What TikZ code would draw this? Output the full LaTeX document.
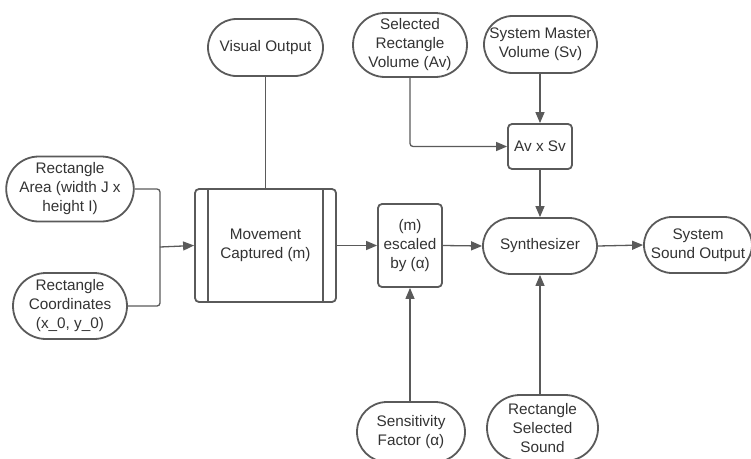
\documentclass[tikz,border=0pt]{standalone}
\usepackage{fontspec}
\setmainfont{Liberation Sans}
\usetikzlibrary{shapes.misc,arrows.meta}
\definecolor{ln}{HTML}{5A5A5A}
\definecolor{tx}{HTML}{333333}
\begin{document}
\begin{tikzpicture}[x=1pt,y=-1pt,
  every node/.style={font=\fontsize{15.3}{19}\selectfont,text=tx,align=center,inner sep=0pt},
  term/.style={draw=ln,line width=1.8pt,rounded rectangle,fill=white},
  procbox/.style={draw=ln,line width=1.8pt,rectangle,rounded corners=4pt,fill=white},
  conn/.style={draw=ln,line width=1.3pt,rounded corners=3pt},
  arr/.style={conn,-{Triangle[length=11pt,width=9pt]}}]
\useasboundingbox (0,0) rectangle (751,458);
\begin{scope}
\clip (0,0) rectangle (751,458);
% nodes
\node[term,minimum width=114pt,minimum height=65pt] (area) at (70,189) {Rectangle\\Area (width J x\\height I)};
\node[term,minimum width=114pt,minimum height=66pt] (coord) at (70,306) {Rectangle\\Coordinates\\(x\_0, y\_0)};
\node[procbox,minimum width=141pt,minimum height=113pt] (move) at (265.5,245.5) {Movement\\Captured (m)};
\draw[ln,line width=1.8pt] ([xshift=14pt]move.north west) -- ([xshift=14pt]move.south west);
\draw[ln,line width=1.8pt] ([xshift=-14pt]move.north east) -- ([xshift=-14pt]move.south east);
\node[term,minimum width=115pt,minimum height=57pt] (vis) at (265.5,47.5) {Visual Output};
\node[procbox,minimum width=64pt,minimum height=83pt] (esc) at (410,245.5) {(m)\\escaled\\by (α)};
\node[term,minimum width=114pt,minimum height=56pt] (syn) at (540,246) {Synthesizer};
\node[term,minimum width=108pt,minimum height=56pt] (out) at (698,245) {System\\Sound Output};
\node[procbox,minimum width=64pt,minimum height=45pt] (avsv) at (540,146.5) {Av x Sv};
\node[term,minimum width=114pt,minimum height=64pt] (srv) at (410,45) {Selected\\Rectangle\\Volume (Av)};
\node[term,minimum width=113pt,minimum height=57pt] (smv) at (540.5,44.5) {System Master\\Volume (Sv)};
\node[term,minimum width=108pt,minimum height=60pt] (sens) at (411,432) {Sensitivity\\Factor (α)};
\node[term,minimum width=111pt,minimum height=66pt] (rss) at (542.5,428) {Rectangle\\Selected\\Sound};
% connectors
\coordinate (join) at (160,247);
\draw[conn] (area.east) -| (join);
\draw[conn] (coord.east) -| (join);
\draw[arr] (join) -- (move.west);
\draw[conn] (move.north) -- (vis.south);
\draw[arr] (move.east |- esc.west) -- (esc.west);
\draw[arr] (esc.east) -- (syn.west);
\draw[arr] (syn.east) -- (out.west);
\draw[arr] (srv.south) |- (avsv.west);
\draw[arr] (smv.south -| avsv.north) -- (avsv.north);
\draw[arr] (avsv.south) -- (syn.north);
\draw[arr] (sens.north -| esc.south) -- (esc.south);
\draw[arr] (rss.north -| syn.south) -- (syn.south);
\end{scope}
\end{tikzpicture}
\end{document}
